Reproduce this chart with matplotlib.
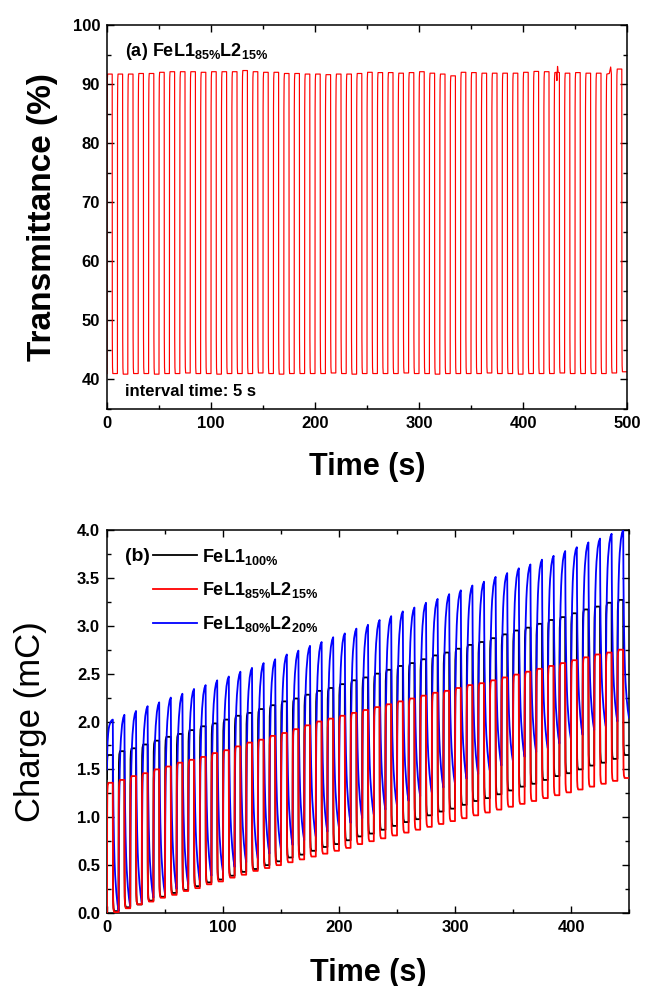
import numpy as np
import matplotlib
matplotlib.use("Agg")
import matplotlib.pyplot as plt
from matplotlib.ticker import MultipleLocator, FormatStrFormatter

plt.rcParams["font.family"] = ["Liberation Sans", "DejaVu Sans"]
plt.rcParams["font.weight"] = "bold"
plt.rcParams["mathtext.fontset"] = "custom"
plt.rcParams["mathtext.rm"] = "Liberation Sans:bold"
plt.rcParams["mathtext.bf"] = "Liberation Sans:bold"
plt.rcParams["mathtext.default"] = "rm"

# ---- panel (a): transmittance, 10 s cycles (5 s colour / 5 s bleach) ----
T_PERIOD = 10.0
T_HIGH = [91.7, 91.7, 91.7, 91.8, 91.8, 92.0, 92.1, 92.1, 92.1, 92.0,
          92.1, 92.1, 92.1, 92.3, 92.1, 92.0, 92.0, 91.8, 91.8, 91.7,
          91.7, 91.6, 91.7, 91.7, 91.8, 92.0, 91.95, 91.95, 91.85, 91.95,
          92.1, 91.85, 91.7, 91.4, 92.0, 91.95, 91.85, 91.85, 91.85, 91.85,
          92.0, 92.15, 92.1, 91.95, 91.85, 91.95, 91.85, 91.85, 91.7, 92.55]
T_LOW = [41.0, 40.9, 41.0, 41.0, 40.9, 41.0, 41.0, 41.1, 41.0, 41.0,
         40.9, 41.0, 41.0, 41.0, 41.1, 41.0, 40.9, 41.0, 41.0, 41.0,
         41.0, 41.1, 41.0, 40.9, 41.0, 41.0, 41.0, 41.0, 41.1, 41.0,
         41.0, 40.9, 41.0, 41.0, 41.0, 41.0, 41.1, 41.0, 41.0, 40.9,
         41.0, 41.0, 41.0, 41.1, 41.0, 41.0, 41.0, 41.0, 41.1, 41.3]
# glitches seen on two plateaus
T_EXTRA_T = [432.0, 432.6, 433.2, 433.8, 483.0, 484.3]
T_EXTRA_V = [92.0, 90.6, 93.0, 92.0, 91.8, 92.9]

# ---- panel (b): charge, per-cycle plateau / peak and floor values ----
Q_PERIOD = 10.0
RED_HIGH = [1.36, 1.39, 1.43, 1.46, 1.50, 1.53, 1.57, 1.60, 1.63, 1.67,
            1.70, 1.74, 1.78, 1.81, 1.85, 1.88, 1.92, 1.96, 2.00, 2.03,
            2.06, 2.09, 2.12, 2.15, 2.18, 2.21, 2.24, 2.27, 2.30, 2.32,
            2.35, 2.38, 2.40, 2.43, 2.46, 2.49, 2.52, 2.55, 2.58, 2.61,
            2.64, 2.67, 2.70, 2.72, 2.75]
RED_LOW = [0.01, 0.05, 0.09, 0.12, 0.16, 0.19, 0.23, 0.26, 0.30, 0.33,
           0.37, 0.40, 0.44, 0.47, 0.50, 0.53, 0.56, 0.59, 0.62, 0.65,
           0.68, 0.72, 0.75, 0.78, 0.81, 0.84, 0.87, 0.90, 0.93, 0.96,
           0.99, 1.02, 1.05, 1.08, 1.11, 1.14, 1.17, 1.20, 1.23, 1.26,
           1.29, 1.32, 1.35, 1.38, 1.41]
BLACK_HIGH = [1.65, 1.69, 1.72, 1.76, 1.80, 1.84, 1.87, 1.91, 1.95, 1.98,
              2.02, 2.06, 2.09, 2.13, 2.17, 2.21, 2.24, 2.28, 2.32, 2.35,
              2.39, 2.43, 2.46, 2.50, 2.54, 2.58, 2.61, 2.65, 2.69, 2.72,
              2.76, 2.80, 2.83, 2.87, 2.91, 2.95, 2.98, 3.02, 3.06, 3.09,
              3.13, 3.17, 3.20, 3.24, 3.27]
BLACK_LOW = [0.02, 0.06, 0.09, 0.13, 0.17, 0.21, 0.24, 0.28, 0.32, 0.35,
             0.39, 0.43, 0.46, 0.50, 0.54, 0.58, 0.61, 0.65, 0.69, 0.72,
             0.76, 0.80, 0.83, 0.87, 0.91, 0.95, 0.98, 1.02, 1.06, 1.09,
             1.13, 1.17, 1.20, 1.24, 1.28, 1.32, 1.35, 1.39, 1.43, 1.46,
             1.50, 1.54, 1.57, 1.61, 1.65]
BLUE_PEAK = [2.02, 2.07, 2.11, 2.16, 2.20, 2.25, 2.29, 2.34, 2.38, 2.43,
             2.47, 2.52, 2.56, 2.61, 2.65, 2.70, 2.74, 2.79, 2.83, 2.88,
             2.92, 2.97, 3.01, 3.06, 3.10, 3.15, 3.19, 3.24, 3.28, 3.33,
             3.37, 3.42, 3.46, 3.51, 3.55, 3.60, 3.64, 3.69, 3.73, 3.78,
             3.82, 3.87, 3.91, 3.96, 4.00]
BLUE_LOW = [0.02, 0.07, 0.11, 0.16, 0.20, 0.25, 0.30, 0.34, 0.39, 0.43,
            0.48, 0.53, 0.57, 0.62, 0.66, 0.71, 0.76, 0.80, 0.85, 0.89,
            0.94, 0.99, 1.03, 1.08, 1.12, 1.17, 1.22, 1.26, 1.31, 1.35,
            1.40, 1.45, 1.49, 1.54, 1.58, 1.63, 1.68, 1.72, 1.77, 1.81,
            1.86, 1.91, 1.95, 2.00, 2.04]
START = {"red": 0.0, "black": 1.40, "blue": 1.50}

# response shapes inside one half cycle
# (seconds after switching, fraction of the step done)
STEP_DT = [0.0, 0.12, 0.3, 0.6, 1.2, 5.0]
STEP_FRAC = [0.0, 0.75, 0.93, 0.98, 1.0, 1.0]
TSTEP_DT = [0.0, 0.1, 0.3, 0.6, 5.0]
TSTEP_FRAC = [0.0, 0.88, 0.98, 1.0, 1.0]
BLUE_DT = [0.0, 0.2, 0.5, 1.0, 1.5, 2.0, 3.0, 4.0, 5.0]
BLUE_RISE = [0.0, 0.35, 0.55, 0.72, 0.82, 0.88, 0.95, 0.985, 1.0]
BLUE_FALL = [0.0, 0.25, 0.45, 0.63, 0.74, 0.81, 0.90, 0.96, 1.0]

LABELS = [r"FeL1$_{100\%}$", r"FeL1$_{85\%}$L2$_{15\%}$", r"FeL1$_{80\%}$L2$_{20\%}$"]


def cycles(period, start, high, low, rdt, rfrac, fdt, ffrac):
    ts, ys = [], []
    prev = start
    for k, (hi, lo) in enumerate(zip(high, low)):
        t0 = k * period
        for dt, f in zip(rdt, rfrac):
            ts.append(t0 + dt)
            ys.append(prev + (hi - prev) * f)
        for dt, f in zip(fdt, ffrac):
            ts.append(t0 + period / 2 + dt)
            ys.append(hi + (lo - hi) * f)
        prev = lo
    return np.array(ts), np.array(ys)


def style_axes(ax):
    ax.tick_params(which="both", direction="in", top=True, right=True,
                   width=1.0, labelsize=12, pad=5)
    ax.tick_params(which="major", length=5)
    ax.tick_params(which="minor", length=3)
    for s in ax.spines.values():
        s.set_linewidth(1.1)
    for lab in ax.get_xticklabels() + ax.get_yticklabels():
        lab.set_fontweight("bold")


fig = plt.figure(figsize=(6.45, 9.86), dpi=100)
ax1 = fig.add_axes([0.1659, 0.5852, 0.8062, 0.3894])
ax2 = fig.add_axes([0.1659, 0.0740, 0.8093, 0.3885])

# (a)
t, y = cycles(T_PERIOD, T_LOW[0], T_HIGH, T_LOW, TSTEP_DT, TSTEP_FRAC, TSTEP_DT, TSTEP_FRAC)
t = np.concatenate([t, T_EXTRA_T])
y = np.concatenate([y, T_EXTRA_V])
order = np.argsort(t, kind="stable")
ax1.plot(t[order], y[order], color="red", lw=0.85)
ax1.set_xlim(0, 500)
ax1.set_ylim(35, 100)
ax1.xaxis.set_major_locator(MultipleLocator(100))
ax1.xaxis.set_minor_locator(MultipleLocator(50))
ax1.yaxis.set_major_locator(MultipleLocator(10))
ax1.yaxis.set_minor_locator(MultipleLocator(5))
ax1.set_yticks([40, 50, 60, 70, 80, 90, 100])
style_axes(ax1)
ax1.set_xlabel("Time (s)", fontsize=22, fontweight="bold")
ax1.set_ylabel("Transmittance (%)", fontsize=24, fontweight="bold")
ax1.xaxis.set_label_coords(0.5, -0.112)
ax1.yaxis.set_label_coords(-0.095, 0.5)
ax1.text(0.035, 0.93, r"(a) FeL1$_{85\%}$L2$_{15\%}$", transform=ax1.transAxes,
         fontsize=13, fontweight="bold", va="center")
ax1.text(0.035, 0.045, "interval time: 5 s", transform=ax1.transAxes,
         fontsize=12, fontweight="bold", va="center")

# (b)
tb, yb = cycles(Q_PERIOD, START["black"], BLACK_HIGH, BLACK_LOW, STEP_DT, STEP_FRAC, STEP_DT, STEP_FRAC)
tl, yl = cycles(Q_PERIOD, START["blue"], BLUE_PEAK, BLUE_LOW, BLUE_DT, BLUE_RISE, BLUE_DT, BLUE_FALL)
tr, yr = cycles(Q_PERIOD, START["red"], RED_HIGH, RED_LOW, STEP_DT, STEP_FRAC, STEP_DT, STEP_FRAC)
hb, = ax2.plot(tb, yb, color="black", lw=1.3, zorder=2)
hl, = ax2.plot(tl, yl, color="#0000ff", lw=1.3, zorder=3)
hr, = ax2.plot(tr, yr, color="red", lw=1.3, zorder=4)
ax2.set_xlim(0, 450)
ax2.set_ylim(0, 4)
ax2.xaxis.set_major_locator(MultipleLocator(100))
ax2.xaxis.set_minor_locator(MultipleLocator(50))
ax2.yaxis.set_major_locator(MultipleLocator(0.5))
ax2.yaxis.set_minor_locator(MultipleLocator(0.25))
ax2.yaxis.set_major_formatter(FormatStrFormatter("%.1f"))
style_axes(ax2)
ax2.set_xlabel("Time (s)", fontsize=22, fontweight="bold")
ax2.set_ylabel("Charge (mC)", fontsize=25, fontweight="normal")
ax2.xaxis.set_label_coords(0.5, -0.117)
ax2.yaxis.set_label_coords(-0.115, 0.5)
ax2.text(0.035, 0.93, "(b)", transform=ax2.transAxes, fontsize=14,
         fontweight="bold", va="center")
leg = ax2.legend([hb, hr, hl], LABELS, loc="upper left", bbox_to_anchor=(0.075, 0.975),
                 frameon=False, fontsize=13, handlelength=2.4, handletextpad=0.3,
                 labelspacing=0.75, borderaxespad=0)
for txt in leg.get_texts():
    txt.set_fontweight("bold")

fig.savefig("out.png", dpi=100)
